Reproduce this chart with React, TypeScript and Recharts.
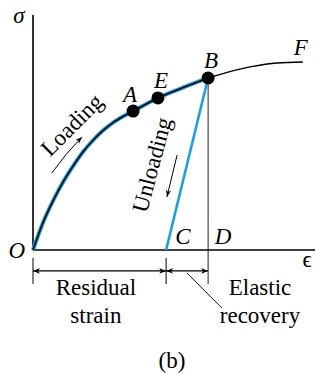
import React from 'react';
import { ComposedChart, Line, XAxis, YAxis, ReferenceLine, ReferenceDot } from 'recharts';

const BLUE = '#1aa0e0';
const FONT = '"Liberation Serif", "Times New Roman", serif';

// strain (0..10) and stress (0..100)
const loadingStrain = [0, 0.35, 0.71, 1.06, 1.42, 1.77, 2.13, 2.48, 2.84, 3.19, 3.55, 4.43, 5.32, 6.21];
const loadingStress = [0, 11.5, 20.9, 28.8, 35.7, 41.7, 46.7, 50.8, 54.2, 56.8, 59.1, 64.7, 69.1, 73.2];
const beyondStrain = [6.21, 7.7, 8.65, 9.57];
const beyondStress = [73.2, 77.9, 79.6, 80.0];
const unloadStrain = [6.21, 4.72];
const unloadStress = [73.2, 0];
const pointNames = ['A', 'E', 'B'];
const pointStrain = [3.55, 4.43, 6.21];
const pointStress = [59.1, 64.7, 73.2];

const toRows = (xs: number[], ys: number[]) => xs.map((e, i) => ({ e, s: ys[i] }));

const loadingData = toRows(loadingStrain, loadingStress);
const beyondData = toRows(beyondStrain, beyondStress);
const unloadData = toRows(unloadStrain, unloadStress);

const head = (x: number, y: number, ang: number, len = 7, w = 2.8) => {
  const c = Math.cos(ang), s = Math.sin(ang);
  const bx = x - c * len, by = y - s * len;
  const nx = x - c * (len - 2), ny = y - s * (len - 2);
  return `M${x},${y} L${bx - s * w},${by + c * w} L${nx},${ny} L${bx + s * w},${by - c * w} Z`;
};

const DimArrow = (props: any) => {
  const { x1, y1, x2, y2 } = props;
  const a = Math.atan2(y2 - y1, x2 - x1);
  return (
    <g>
      <line x1={x1} y1={y1} x2={x2} y2={y2} stroke="#000" strokeWidth={1.2} />
      <path d={head(x2, y2, a)} fill="#000" />
      <path d={head(x1, y1, a + Math.PI)} fill="#000" />
    </g>
  );
};

const CurvedArrow = (bend: number) => (props: any) => {
  const { x1, y1, x2, y2 } = props;
  const mx = (x1 + x2) / 2, my = (y1 + y2) / 2;
  const dx = x2 - x1, dy = y2 - y1;
  const l = Math.hypot(dx, dy);
  const cx = mx + (-dy / l) * bend, cy = my + (dx / l) * bend;
  const a = Math.atan2(y2 - cy, x2 - cx);
  return (
    <g>
      <path d={`M${x1},${y1} Q${cx},${cy} ${x2},${y2}`} fill="none" stroke="#000" strokeWidth={1} />
      <path d={head(x2, y2, a, 7, 2.6)} fill="#000" />
    </g>
  );
};

const textShape = (text: string, italic: boolean, rotate = 0) => (props: any) => {
  const { cx, cy } = props;
  return (
    <text
      x={cx}
      y={cy}
      textAnchor="middle"
      dominantBaseline={rotate ? 'central' : 'alphabetic'}
      transform={rotate ? `rotate(${rotate} ${cx} ${cy})` : undefined}
      fontFamily={FONT}
      fontStyle={italic ? 'italic' : 'normal'}
      fontSize={23}
      fill="#000"
    >
      {text}
    </text>
  );
};

export default function App() {
  const labels: [string, number, number, boolean, number?][] = [
    ['\u03c3', -0.5, 96.6, true],
    ['O', -0.57, -3.4, true],
    ['A', 3.44, 63.0, true],
    ['E', 4.54, 68.9, true],
    ['B', 6.31, 77.4, true],
    ['F', 9.5, 83.0, true],
    ['C', 5.32, 2.55, true],
    ['D', 6.74, 2.55, true],
    ['\u03f5', 9.72, -7.2, false],
    ['Residual', 2.23, -19.1, false],
    ['strain', 2.23, -31.1, false],
    ['Elastic', 8.05, -19.1, false],
    ['recovery', 8.05, -31.1, false],
    ['(b)', 4.93, -50.2, false],
    ['Loading', 1.38, 53.2, false, -45],
    ['Unloading', 4.22, 36.2, false, -75],
  ];

  return (
    <div style={{ position: 'absolute', left: 0, top: 0 }}>
      <ComposedChart width={316} height={374} margin={{ top: 15, right: 1, bottom: 124, left: 33 }}>
        <XAxis type="number" dataKey="e" domain={[0, 10]} hide />
        <YAxis type="number" dataKey="s" domain={[0, 100]} hide />

        {/* axes */}
        <ReferenceLine segment={[{ x: 0, y: 0 }, { x: 0, y: 100 }]} stroke="#000" strokeWidth={1.6} ifOverflow="visible" />
        <ReferenceLine segment={[{ x: 0, y: 0 }, { x: 10, y: 0 }]} stroke="#000" strokeWidth={1.6} ifOverflow="visible" />

        {/* B to D and dimension ticks */}
        <ReferenceLine segment={[{ x: 6.21, y: 73.2 }, { x: 6.21, y: -14.5 }]} stroke="#222" strokeWidth={1} ifOverflow="visible" />
        <ReferenceLine segment={[{ x: 0, y: -3.4 }, { x: 0, y: -14.5 }]} stroke="#000" strokeWidth={1} ifOverflow="visible" />
        <ReferenceLine segment={[{ x: 4.72, y: -3.4 }, { x: 4.72, y: -14.5 }]} stroke="#000" strokeWidth={1} ifOverflow="visible" />
        <ReferenceLine segment={[{ x: 0, y: -8.9 }, { x: 4.72, y: -8.9 }]} shape={DimArrow} ifOverflow="visible" />
        <ReferenceLine segment={[{ x: 4.72, y: -8.9 }, { x: 6.21, y: -8.9 }]} shape={DimArrow} ifOverflow="visible" />
        <ReferenceLine segment={[{ x: 5.46, y: -9.8 }, { x: 6.7, y: -24.7 }]} stroke="#000" strokeWidth={0.9} ifOverflow="visible" />

        {/* direction arrows */}
        <ReferenceLine segment={[{ x: 0.67, y: 32.8 }, { x: 1.74, y: 48.1 }]} shape={CurvedArrow(-2)} ifOverflow="visible" />
        <ReferenceLine segment={[{ x: 5.11, y: 40.4 }, { x: 4.75, y: 22.6 }]} shape={CurvedArrow(0)} ifOverflow="visible" />

        <Line data={loadingData} dataKey="s" type="monotone" stroke={BLUE} strokeWidth={4} dot={false} isAnimationActive={false} />
        <Line data={loadingData} dataKey="s" type="monotone" stroke="#000" strokeWidth={1.6} dot={false} isAnimationActive={false} />
        <Line data={beyondData} dataKey="s" type="monotone" stroke="#000" strokeWidth={1.4} dot={false} isAnimationActive={false} />
        <Line data={unloadData} dataKey="s" type="linear" stroke={BLUE} strokeWidth={2.6} dot={false} isAnimationActive={false} />

        {pointNames.map((n, i) => (
          <ReferenceDot key={n} x={pointStrain[i]} y={pointStress[i]} r={6.5} fill="#000" stroke="none" ifOverflow="visible" />
        ))}

        {labels.map(([t, x, y, it, rot]) => (
          <ReferenceDot key={t} x={x} y={y} r={0} ifOverflow="visible" shape={textShape(t, it, rot || 0)} />
        ))}
      </ComposedChart>
    </div>
  );
}
